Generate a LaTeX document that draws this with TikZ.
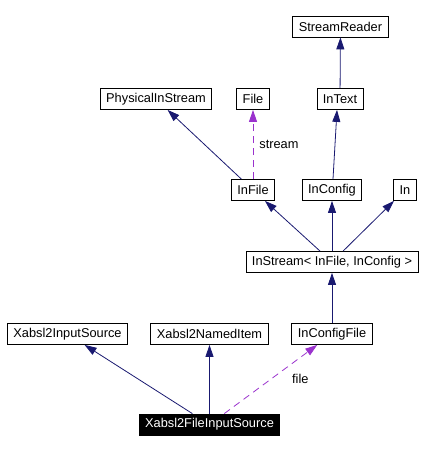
\documentclass[tikz,border=0pt]{standalone}
\usepackage{fontspec}
\setmainfont{Liberation Sans}
\usetikzlibrary{arrows.meta, positioning}
\definecolor{edgeblue}{HTML}{191970}
\definecolor{edgepurple}{HTML}{9A32CD}

\begin{document}
\begin{tikzpicture}[
x=1pt, y=-1pt,
>={Triangle[length=12pt,width=8pt]},
every node/.style={font=\fontsize{12.8}{14}\selectfont},
cls/.style={draw, line width=0.8pt, inner xsep=6pt, inner ysep=0pt, minimum height=21pt},
inherit/.style={->, edgeblue, line width=0.8pt},
uses/.style={->, edgepurple, line width=0.8pt, dash pattern=on 7pt off 5pt},
lbl/.style={inner sep=0pt, text=black},
]
\useasboundingbox (0,0) rectangle (428,452);
%% top rows
% nodes
\node[cls] (StreamReader) at (340.5,26.5) {StreamReader};
\node[cls] (PhysicalInStream) at (156,99) {PhysicalInStream};
\node[cls] (File) at (253,99) {File};
\node[cls] (InText) at (340,99) {InText};
\node[cls] (InFile) at (253,190) {InFile};
\node[cls] (InConfig) at (332,190) {InConfig};
\node[cls] (In) at (405,190) {In};
\node[cls] (InStream) at (332,262) {InStream< InFile, InConfig >};
% arrows
\draw[inherit] (InText) -- (StreamReader);
\draw[inherit] (InFile) -- (PhysicalInStream);
\draw[uses] (InFile) -- node[lbl, right=6pt] {stream} (File);
\draw[inherit] ([xshift=1pt]InConfig.north) -- ([xshift=-3pt]InText.south);
\draw[inherit] (InStream) -- (InFile);
\draw[inherit] (InStream) -- (InConfig);
\draw[inherit] (InStream) -- (In);

%% bottom rows
% nodes
\node[cls] (InputSource) at (67.5,334) {Xabsl2InputSource};
\node[cls] (NamedItem) at (209.5,334) {Xabsl2NamedItem};
\node[cls] (InConfigFile) at (332,334) {InConfigFile};
\node[cls, fill=black, text=white] (FileInputSource) at (209.5,424.5) {Xabsl2FileInputSource};
% arrows
\draw[inherit] (InConfigFile) -- (InStream);
\draw[inherit] (FileInputSource) -- (InputSource);
\draw[inherit] (FileInputSource) -- (NamedItem);
\draw[uses] (FileInputSource) -- node[lbl, right=21pt] {file} (InConfigFile);
\end{tikzpicture}
\end{document}
